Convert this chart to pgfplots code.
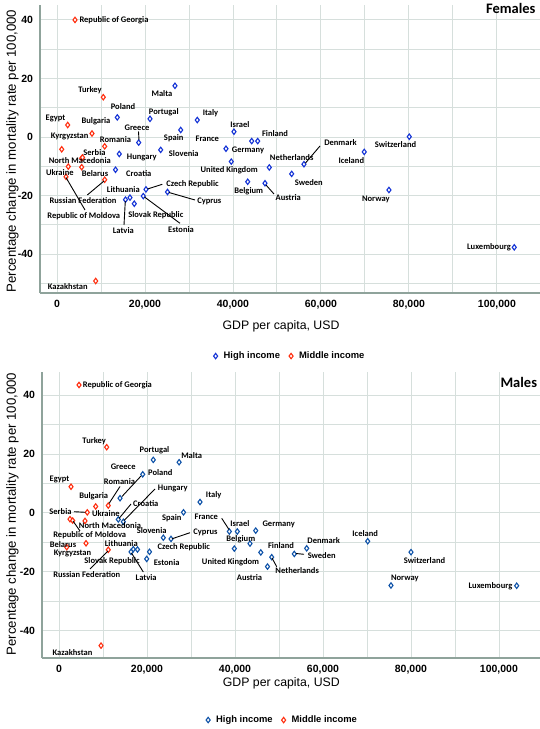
\documentclass[border=0pt]{standalone}
\usepackage{fontspec}
\setmainfont{Liberation Sans}
\newfontfamily\lblfont{Carlito}
\usepackage{pgfplots}
\pgfplotsset{compat=1.18}
\definecolor{hiblueF}{HTML}{1433D6}
\definecolor{hiblueM}{HTML}{0E52A8}
\definecolor{midred}{HTML}{FF2E0F}
\definecolor{gridc}{HTML}{D6DFDC}
\definecolor{axc}{HTML}{8FA39B}

\pgfplotsset{
 panel/.style={
  scale only axis, axis lines*=left, axis line style={-, draw=axc, line width=1.3pt},
  xmin=-3864, xmax=109800,
  xtick={0,20000,40000,60000,80000,100000},
  minor xtick={10000,30000,50000,70000,90000},
  ytick={-40,-20,0,20,40},
  minor ytick={-50,-30,-10,10,30},
  grid=both, major grid style={draw=gridc,line width=0.9pt}, minor grid style={draw=gridc,line width=0.9pt},
  major tick length=0pt, minor tick length=0pt,
  scaled x ticks=false,
  /pgf/number format/assume math mode=true,
  /pgf/number format/fixed,
  /pgf/number format/1000 sep={,},
  ticklabel style={font=\bfseries\fontsize{10.5}{12}\selectfont, text=black},
  xticklabel style={yshift=-4pt},
  yticklabel style={xshift=-3.5pt},
  legend columns=2,
  legend image code/.code={\draw[#1] plot coordinates {(0pt,0pt)};},
  legend style={draw=none, fill=none, font=\bfseries\fontsize{9.4}{11}\selectfont, anchor=center,
    /tikz/every odd column/.append style={column sep=4pt},
    /tikz/every even column/.append style={column sep=7pt}},
 },
 hi/.style={only marks, mark=diamond*, mark size=2.7pt, mark options={fill=white, draw=#1, line width=1.1pt}},
 mid/.style={only marks, mark=diamond*, mark size=2.7pt, mark options={fill=white, draw=midred, line width=1.1pt}},
}
\tikzset{
 lbl/.style={font=\lblfont\bfseries\fontsize{8.5}{9}\selectfont, inner sep=0pt, text=black},
 ldr/.style={draw=black, line width=0.9pt},
 ttl/.style={font=\lblfont\bfseries\fontsize{14.5}{16}\selectfont, inner sep=0pt},
}
\newcommand\lab[4][center]{\node[lbl,anchor=#1] at (#2,{729-#3}) {#4};}
\newcommand\ld[4]{\draw[ldr] (#1,{729-#2}) -- (#3,{729-#4});}

\begin{document}
\begin{tikzpicture}
\useasboundingbox (0,0) rectangle (540pt,729pt);
% ---------------- Females ----------------
\begin{axis}[panel, at={(40pt,436pt)}, anchor=south west, width=500pt, height=288pt,
  ymin=-53.3, ymax=45.1, legend style={at={(0.5,-0.219)}}]
\addplot[hi=hiblueF] table[row sep=\\] {
x y name\\
26820 17.5 Malta\\
13710 6.7 Poland\\
21140 6.2 Portugal\\
31890 5.8 Italy\\
28120 2.4 Spain\\
40230 1.8 Israel\\
18570 -1.9 Greece\\
44260 -1.4 France\\
45620 -1.4 Finland\\
14160 -5.8 Hungary\\
23570 -4.4 Slovenia\\
38410 -4.0 Germany\\
13300 -11.2 Croatia\\
39620 -8.4 UnitedKingdom\\
48260 -10.4 Netherlands\\
56140 -9.3 Denmark\\
69850 -5.1 Iceland\\
80080 0.1 Switzerland\\
53350 -12.6 Sweden\\
43350 -15.3 Belgium\\
47280 -15.8 Austria\\
20230 -17.9 CzechRepublic\\
25120 -18.8 Cyprus\\
19620 -20.2 Estonia\\
15570 -21.4 Latvia\\
16590 -20.7 Lithuania\\
17570 -22.8 SlovakRepublic\\
75460 -18.1 Norway\\
103950 -37.7 Luxembourg\\
};
\addlegendentry{High income}
\addplot[mid] table[row sep=\\] {
x y name\\
4090 40.0 RepublicOfGeorgia\\
10520 13.6 Turkey\\
2430 4.1 Egypt\\
7960 1.2 Bulgaria\\
1070 -4.2 Kyrgyzstan\\
10840 -3.2 Romania\\
5610 -7.3 Serbia\\
5800 -7.0 NorthMacedonia\\
2570 -10.1 Ukraine\\
5610 -10.3 Belarus\\
2050 -13.6 RepublicOfMoldova\\
10840 -14.6 RussianFederation\\
8800 -49.2 Kazakhstan\\
};
\addlegendentry{Middle income}
\end{axis}
% ---------------- Males ----------------
\begin{axis}[panel, at={(42pt,71pt)}, anchor=south west, width=498pt, height=286pt,
  ymin=-49.2, ymax=47.8, xmax=109331, legend style={at={(0.483,-0.217)}}]
\addplot[hi=hiblueM] table[row sep=\\] {
x y name\\
21430 18.0 Portugal\\
27300 17.2 Malta\\
19030 13.1 Greece\\
13870 5.0 Poland\\
32050 3.7 Italy\\
28300 0.2 Spain\\
13480 -2.2 Croatia\\
14620 -3.0 Hungary\\
23710 -8.4 Slovenia\\
25460 -8.8 Cyprus\\
16890 -12.3 Lithuania\\
17840 -12.4 SlovakRepublic\\
16370 -13.2 Latvia\\
20570 -13.2 CzechRepublic\\
19930 -15.6 Estonia\\
38710 -6.3 France\\
40530 -6.3 Israel\\
44710 -6.0 Germany\\
43410 -10.4 Belgium\\
39850 -12.1 UnitedKingdom\\
45870 -13.4 Finland\\
48350 -15.0 Netherlands\\
47390 -18.2 Austria\\
56300 -12.0 Denmark\\
53480 -13.9 Sweden\\
70170 -9.6 Iceland\\
80010 -13.3 Switzerland\\
75460 -24.6 Norway\\
104030 -24.7 Luxembourg\\
};
\addlegendentry{High income}
\addplot[mid] table[row sep=\\] {
x y name\\
4550 43.4 RepublicOfGeorgia\\
10840 22.3 Turkey\\
2730 8.9 Egypt\\
8340 2.2 Bulgaria\\
11200 2.5 Romania\\
6430 0.2 Serbia\\
2500 -2.1 Ukraine\\
3110 -2.6 RepublicOfMoldova\\
5910 -2.7 NorthMacedonia\\
6140 -10.3 Belarus\\
1750 -11.6 Kyrgyzstan\\
11200 -12.5 RussianFederation\\
9550 -45.0 Kazakhstan\\
};
\addlegendentry{Middle income}
\end{axis}

\begin{scope}[x=1pt,y=1pt]
% axis titles
\node[font=\fontsize{12.3}{14}\selectfont, inner sep=0pt] at (281,{729-326}) {GDP per capita, USD};
\node[font=\fontsize{12.3}{14}\selectfont, inner sep=0pt] at (281.3,{729-683}) {GDP per capita, USD};
\node[rotate=90, font=\fontsize{13.2}{15}\selectfont, inner sep=0pt] at (12.5,{729-151}) {Percentage change in mortality rate per 100,000};
\node[rotate=90, font=\fontsize{13.2}{15}\selectfont, inner sep=0pt] at (12.5,{729-514}) {Percentage change in mortality rate per 100,000};
\node[ttl] at (510.8,{729-8}) {Females};
\node[ttl] at (518.8,{729-382.7}) {Males};
% ---- Female labels
\lab[west]{79.3}{20}{Republic of Georgia}
\lab{90}{90}{Turkey}
\lab{162}{94}{Malta}
\lab{123}{106.7}{Poland}
\lab{163.8}{112.3}{Portugal}
\lab{210.5}{113.3}{Italy}
\lab{55.5}{118.3}{Egypt}
\lab{96}{121.7}{Bulgaria}
\lab{240}{124.3}{Israel}
\lab{137}{127.3}{Greece}
\ld{138.5}{131.5}{139}{140}
\lab{275}{134}{Finland}
\lab{69.7}{136.7}{Kyrgyzstan}
\lab{115.5}{139.3}{Romania}
\lab{173.7}{137.7}{Spain}
\lab{207.3}{138.3}{France}
\lab{94.5}{152.3}{Serbia}
\lab{248}{150}{Germany}
\lab{141.8}{157.7}{Hungary}
\lab{183.8}{154}{Slovenia}
\lab{79.8}{160.7}{North Macedonia}
\lab{59.8}{172.7}{Ukraine}
\lab{95}{174}{Belarus}
\lab{138.8}{174}{Croatia}
\lab{229.2}{170}{United Kingdom}
\lab{291.7}{157.7}{Netherlands}
\lab{340.5}{142.3}{Denmark}
\ld{320}{146}{305.5}{163}
\lab{351.3}{160.7}{Iceland}
\lab{395.5}{145}{Switzerland}
\lab{308.8}{182.7}{Sweden}
\lab{248.7}{191.7}{Belgium}
\lab{288.3}{197.3}{Austria}
\ld{266}{185}{274}{194}
\lab{375.8}{199}{Norway}
\lab[east]{511}{247.3}{Luxembourg}
\lab{123.3}{189.3}{Lithuania}
\lab{192.5}{184.3}{Czech Republic}
\ld{162.3}{184.3}{147.5}{189}
\lab{83}{201}{Russian Federation}
\ld{87.3}{195}{104}{181}
\lab{209.3}{201}{Cyprus}
\ld{195}{200}{169}{192.5}
\lab{83.8}{215.7}{Republic of Moldova}
\ld{85}{210}{66}{177.5}
\lab{155.8}{215}{Slovak Republic}
\lab{123.3}{230.7}{Latvia}
\ld{124}{225}{125.3}{201}
\lab{181}{229.3}{Estonia}
\ld{180}{223.3}{144.5}{197}
\lab{67.8}{286.7}{Kazakhstan}
% ---- Male labels
\lab[west]{82.7}{385.7}{Republic of Georgia}
\lab{94.2}{440.7}{Turkey}
\lab{154.5}{450.7}{Portugal}
\lab{191.7}{456}{Malta}
\lab{123.2}{466.7}{Greece}
\lab{160.3}{472.7}{Poland}
\ld{141}{476}{122}{496.5}
\lab{59.5}{479.3}{Egypt}
\lab{119.5}{481.7}{Romania}
\ld{120}{486.5}{109}{503.5}
\lab{172.8}{488.3}{Hungary}
\ld{155}{489}{124}{520.5}
\lab{93.7}{496.7}{Bulgaria}
\lab{213.7}{495}{Italy}
\lab{145.8}{504}{Croatia}
\ld{131}{504}{119}{518.5}
\lab{60.5}{511.7}{Serbia}
\ld{74}{511.7}{85.5}{512.3}
\lab{105.8}{514}{Ukraine}
\lab{171.8}{518.3}{Spain}
\lab{206.3}{516.7}{France}
\ld{221.7}{518.3}{229}{529.5}
\lab{240}{524}{Israel}
\lab{278.7}{524.3}{Germany}
\lab{110}{526}{North Macedonia}
\ld{73}{521}{80}{531}
\lab{151.7}{530.7}{Slovenia}
\lab{205.5}{532.3}{Cyprus}
\ld{190}{532.7}{172}{538.8}
\lab{89.7}{535.3}{Republic of Moldova}
\lab{63}{544.5}{Belarus}
\lab{240.8}{539.3}{Belgium}
\lab{121.3}{543.3}{Lithuania}
\lab{183.8}{547.3}{Czech Republic}
\lab{323.7}{540.7}{Denmark}
\lab{365.2}{534}{Iceland}
\lab{72.5}{553.8}{Kyrgyzstan}
\lab{112}{561.5}{Slovak Republic}
\lab{146.2}{577.7}{Latvia}
\ld{143.3}{572}{131.5}{553}
\lab{166.7}{562.3}{Estonia}
\lab{230.5}{562.3}{United Kingdom}
\lab{281}{546}{Finland}
\lab{321.7}{555.7}{Sweden}
\ld{304}{554.3}{296}{553.5}
\lab{297.2}{571}{Netherlands}
\ld{276.7}{566.7}{272}{558}
\lab{249.5}{577.7}{Austria}
\lab{86.7}{574.5}{Russian Federation}
\ld{90}{569}{108}{551}
\lab{424.5}{560.7}{Switzerland}
\lab{404.8}{578.3}{Norway}
\lab[east]{512.5}{586.7}{Luxembourg}
\lab{72.5}{652.3}{Kazakhstan}
\end{scope}
\end{tikzpicture}
\end{document}
